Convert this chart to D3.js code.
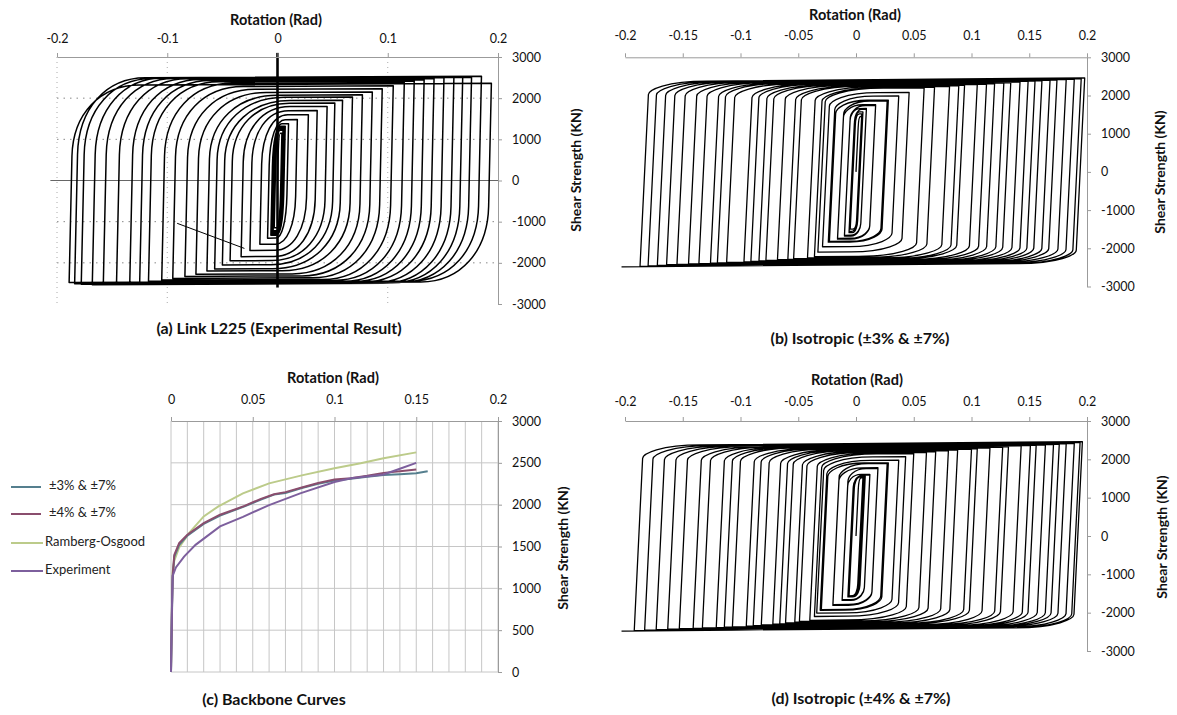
<!DOCTYPE html>
<html><head><meta charset="utf-8">
<script src="https://cdn.jsdelivr.net/npm/d3@7"></script>
<style>
body{margin:0;background:#fff;}
svg{display:block;font-family:Lato,"Open Sans",sans-serif;}
</style></head><body>
<svg id="c" width="1177" height="715"></svg>
<script>
// ---------- tick values ----------
const ticksAX = [-0.2, -0.1, 0, 0.1, 0.2];
const ticksBX = [-0.2, -0.15, -0.1, -0.05, 0, 0.05, 0.1, 0.15, 0.2];
const ticksCX = [0, 0.05, 0.1, 0.15, 0.2];
const ticksY  = [-3000, -2000, -1000, 0, 1000, 2000, 3000];
const ticksCY = [0, 500, 1000, 1500, 2000, 2500, 3000];

// ---------- (a) experimental hysteresis: peaks [rotation, force] ----------
const posA = [[0.004,1150],[0.005,1220],[0.005,1260],[0.006,1290],[0.006,1300],[0.007,1320],
  [0.010,1380],[0.018,1480],[0.028,1600],[0.036,1700],[0.045,1800],[0.052,1880],[0.059,1950],
  [0.068,2030],[0.077,2080],[0.086,2150],[0.095,2230],[0.105,2300],[0.115,2380],[0.124,2420],
  [0.133,2450],[0.142,2480],[0.151,2500],[0.160,2510],[0.168,2520],[0.176,2510],[0.185,2530],[0.194,2360]];
const negA = [[-0.003,-1150],[-0.004,-1220],[-0.004,-1260],[-0.005,-1290],[-0.005,-1300],[-0.006,-1330],
  [-0.009,-1400],[-0.016,-1550],[-0.025,-1700],[-0.033,-1850],[-0.043,-1950],[-0.050,-2050],[-0.057,-2150],
  [-0.064,-2200],[-0.074,-2280],[-0.084,-2330],[-0.095,-2380],[-0.105,-2420],[-0.117,-2450],[-0.125,-2470],
  [-0.134,-2480],[-0.146,-2490],[-0.158,-2520],[-0.168,-2530],[-0.178,-2520],[-0.184,-2510],[-0.189,-2480],[-0.150,-2500]];
const strayA = [[-0.091,-1040],[-0.030,-1650]];

// ---------- (b) isotropic ±3% & ±7% ----------
const posB = [[0.005,1450],[0.005,1520],[0.006,1570],[0.009,1640],[0.009,1660],[0.017,1740],[0.017,1760],
  [0.027,1860],[0.028,1880],[0.037,1990],[0.046,2080],
  [0.059,2200],[0.068,2220],[0.081,2240],[0.089,2260],[0.094,2270],[0.105,2290],[0.113,2300],[0.120,2310],
  [0.128,2330],[0.134,2340],[0.142,2350],[0.149,2370],[0.155,2380],[0.161,2390],[0.168,2400],[0.174,2410],
  [0.182,2420],[0.189,2430],[0.195,2445],[0.198,2460]];
const negB = [[-0.005,-1500],[-0.006,-1560],[-0.006,-1590],[-0.010,-1660],[-0.010,-1680],[-0.016,-1740],[-0.016,-1760],
  [-0.023,-1820],[-0.024,-1840],[-0.029,-1960],[-0.033,-2100],
  [-0.036,-2220],[-0.042,-2250],[-0.054,-2270],[-0.059,-2290],[-0.068,-2300],[-0.078,-2320],[-0.084,-2330],
  [-0.091,-2345],[-0.097,-2355],[-0.112,-2370],[-0.120,-2380],[-0.126,-2390],[-0.136,-2400],[-0.145,-2410],
  [-0.155,-2420],[-0.164,-2430],[-0.172,-2445],[-0.180,-2460],[-0.187,-2475],[-0.203,-2485]];

// ---------- (d) isotropic ±4% & ±7% ----------
const posD = [[0.006,1520],[0.007,1545],[0.008,1560],[0.012,1590],[0.012,1610],[0.019,1760],[0.019,1780],
  [0.027,1890],[0.028,1910],[0.037,1980],[0.043,2070],
  [0.050,2150],[0.061,2180],[0.069,2200],[0.080,2230],[0.088,2250],[0.100,2270],[0.105,2280],[0.116,2300],
  [0.127,2320],[0.132,2330],[0.143,2350],[0.151,2360],[0.156,2370],[0.164,2380],[0.171,2390],[0.176,2400],
  [0.182,2410],[0.189,2420],[0.194,2440],[0.196,2460]];
const negD = [[-0.006,-1560],[-0.007,-1575],[-0.007,-1590],[-0.012,-1660],[-0.012,-1680],[-0.020,-1790],[-0.020,-1810],
  [-0.030,-1920],[-0.031,-1940],[-0.034,-2010],[-0.036,-2100],
  [-0.040,-2200],[-0.049,-2230],[-0.053,-2250],[-0.061,-2270],[-0.066,-2290],[-0.072,-2300],[-0.082,-2320],
  [-0.089,-2340],[-0.095,-2350],[-0.107,-2370],[-0.114,-2380],[-0.121,-2390],[-0.133,-2400],[-0.141,-2410],
  [-0.153,-2420],[-0.163,-2430],[-0.173,-2440],[-0.183,-2455],[-0.192,-2470],[-0.203,-2480]];

// ---------- (c) backbone curves ----------
const seriesNames = ["±3% & ±7%", "±4% & ±7%", "Ramberg-Osgood", "Experiment"];
const seriesColors = ["#557f8e", "#8a4d6d", "#bccb8a", "#7d5f9d"];
const bb3 = [[0,0],[0.0005,600],[0.001,1100],[0.002,1380],[0.005,1520],[0.01,1630],[0.02,1770],[0.03,1870],
  [0.045,1980],[0.055,2060],[0.063,2120],[0.07,2140],[0.08,2200],[0.09,2250],[0.1,2290],[0.11,2310],
  [0.12,2335],[0.13,2355],[0.14,2365],[0.15,2375],[0.157,2400]];
const bb4 = [[0,0],[0.0005,650],[0.001,1150],[0.002,1400],[0.005,1540],[0.01,1640],[0.02,1780],[0.03,1880],
  [0.045,1985],[0.055,2070],[0.063,2125],[0.07,2150],[0.08,2205],[0.09,2260],[0.1,2300],[0.11,2315],
  [0.12,2345],[0.13,2380],[0.14,2400],[0.15,2420]];
const bbRO = [[0,0],[0.0005,700],[0.001,1200],[0.002,1330],[0.005,1490],[0.011,1660],[0.02,1860],[0.029,1980],
  [0.044,2135],[0.06,2255],[0.08,2350],[0.1,2435],[0.116,2495],[0.13,2555],[0.15,2625]];
const bbEx = [[0,0],[0.0005,700],[0.001,1150],[0.003,1250],[0.008,1380],[0.015,1520],[0.03,1740],[0.044,1855],
  [0.06,1995],[0.079,2135],[0.1,2270],[0.11,2315],[0.13,2360],[0.14,2430],[0.15,2500]];
const bbSeries = [bb3, bb4, bbRO, bbEx];

// ---------- helpers ----------
const svg = d3.select("#c");
const fmt = d => String(+(+d).toFixed(2));

function interleave(pos, neg){
  const pts = [[0,0]];
  for (let i = 0; i < Math.max(pos.length, neg.length); i++){
    if (pos[i]) pts.push(pos[i]);
    if (neg[i]) pts.push(neg[i]);
  }
  return pts;
}

// isotropic-type branches: straight elastic part, sharp knee, quick hardening rise, gentle plateau
function isoPath(pts, x, y, K, kp){
  const p = d3.path();
  p.moveTo(x(pts[0][0]), y(pts[0][1]));
  for (let i = 1; i < pts.length; i++){
    const [px, pf] = pts[i-1], [nx, nf] = pts[i];
    const s = nf > pf ? 1 : -1;
    const span = Math.abs(nx - px);
    const dH = Math.min(230, 0.12*Math.abs(nf));
    let r = Math.min(0.05, 0.5*span);
    const fk = nf - s*kp*Math.max(0, span - r) - s*dH;      // knee level
    const xc = px + (fk - pf)/K;                               // knee rotation
    const L = Math.abs(nx - xc);
    r = Math.min(0.05, 0.6*L);
    const dxp = xc + s*r, dfp = nf - s*kp*(L - r);
    const dA = Math.min(120, 0.08*Math.abs(nf));
    const ax = xc - s*dA/K, af = fk - s*dA;
    p.lineTo(x(ax), y(af));
    p.bezierCurveTo(x(xc), y(fk), x(xc + s*0.3*r), y(dfp), x(dxp), y(dfp));
    p.lineTo(x(nx), y(nf));
  }
  return p.toString();
}

// experimental branches: elastic part then wide rounded (Bauschinger) knee
function expPath(pts, x, y, K, kp, ra){
  const p = d3.path();
  p.moveTo(x(pts[0][0]), y(pts[0][1]));
  for (let i = 1; i < pts.length; i++){
    const [px, pf] = pts[i-1], [nx, nf] = pts[i];
    const s = nf > pf ? 1 : -1;
    const fa = s*ra*Math.abs(nf), ax = px + (fa - pf)/K;
    const xc = (nf - pf + K*px - kp*nx) / (K - kp), fc = pf + K*(xc - px);
    const w = Math.min(0.06, 0.55*Math.abs(nx - xc));
    const bx = xc + s*w, bf = fc + kp*s*w;
    const c1x = ax + 0.6*(xc - ax), c1f = fa + 0.6*(fc - fa);
    const c2x = bx + 0.6*(xc - bx), c2f = bf + 0.6*(fc - bf);
    p.lineTo(x(ax), y(fa));
    p.bezierCurveTo(x(c1x), y(c1f), x(c2x), y(c2f), x(bx), y(bf));
    p.lineTo(x(nx), y(nf));
  }
  return p.toString();
}

function axes(x, y, xt, yt, o){
  const g = svg.append("g");
  const ax = g.append("g").attr("transform", `translate(0,${y.range()[1]})`)
    .call(d3.axisTop(x).tickValues(xt).tickFormat(fmt).tickSize(4).tickPadding(o.xpad).tickSizeOuter(0));
  const ay = g.append("g").attr("transform", `translate(${x.range()[1]},0)`)
    .call(d3.axisRight(y).tickValues(yt).tickFormat(fmt).tickSize(4).tickPadding(10).tickSizeOuter(0));
  [ax, ay].forEach(a => {
    a.select(".domain").attr("stroke", "#9b9b9b");
    a.selectAll(".tick line").attr("stroke", "#9b9b9b");
    a.selectAll("text").attr("fill", "#111").style("font-size", "12.5px").style("font-family", "Lato");
  });
  g.append("text").attr("x", o.tx).attr("y", o.ty).attr("text-anchor", "middle")
    .style("font-weight", "700").style("font-size", "14.5px").attr("fill", "#111").text("Rotation (Rad)");
  g.append("text").attr("transform", `translate(${o.yx},${o.yy}) rotate(-90)`).attr("text-anchor", "middle")
    .attr("dominant-baseline", "middle")
    .style("font-weight", "700").style("font-size", "14px").attr("fill", "#111").text("Shear Strength (KN)");
  g.append("text").attr("x", o.cx).attr("y", o.cy).attr("text-anchor", "middle")
    .style("font-weight", "700").style("font-size", "16px").attr("fill", "#111").text(o.caption);
}

// ---------- panel (a) ----------
const xA = d3.scaleLinear([-0.2, 0.2], [57, 498]);
const yA = d3.scaleLinear([-3000, 3000], [304, 57]);
const gA = svg.append("g");
[-2000, -1000, 1000, 2000].forEach(v => gA.append("line")
  .attr("x1", xA(-0.2)).attr("x2", xA(0.2)).attr("y1", yA(v)).attr("y2", yA(v))
  .attr("stroke", "#888").attr("stroke-dasharray", "1.5,5"));
[-0.2, -0.1, 0.1].forEach(v => gA.append("line")
  .attr("x1", xA(v)).attr("x2", xA(v)).attr("y1", yA(3000)).attr("y2", yA(-3000))
  .attr("stroke", "#aaa").attr("stroke-dasharray", "1,4"));
gA.append("line").attr("x1", xA(-0.206)).attr("x2", xA(0.2)).attr("y1", yA(0)).attr("y2", yA(0))
  .attr("stroke", "#666").attr("stroke-width", 1);
gA.append("path").attr("d", expPath(interleave(posA, negA), xA, yA, 1200000, 120, 0.25))
  .attr("fill", "none").attr("stroke", "#000").attr("stroke-width", 1.5).attr("stroke-linejoin", "round");
gA.append("path").attr("d", d3.line().x(d => xA(d[0])).y(d => yA(d[1]))(strayA))
  .attr("fill", "none").attr("stroke", "#000").attr("stroke-width", 1);
gA.append("line").attr("x1", xA(0)).attr("x2", xA(0)).attr("y1", yA(3100)).attr("y2", yA(-2600))
  .attr("stroke", "#000").attr("stroke-width", 2.6);
axes(xA, yA, ticksAX, ticksY, {xpad: 10, tx: 276, ty: 25, yx: 577, yy: 170, cx: 279, cy: 334,
  caption: "(a) Link L225 (Experimental Result)"});

// ---------- panel (b) ----------
const xB = d3.scaleLinear([-0.2, 0.2], [625, 1087]);
const yB = d3.scaleLinear([-3000, 3000], [286.5, 57.3]);
svg.append("path").attr("d", isoPath(interleave(posB, negB), xB, yB, 620000, 250))
  .attr("fill", "none").attr("stroke", "#000").attr("stroke-width", 1.3).attr("stroke-linejoin", "round");
axes(xB, yB, ticksBX, ticksY, {xpad: 13, tx: 855, ty: 20, yx: 1161, yy: 172, cx: 860, cy: 344,
  caption: "(b) Isotropic (±3% & ±7%)"});

// ---------- panel (c) ----------
const xC = d3.scaleLinear([0, 0.2], [171, 498]);
const yC = d3.scaleLinear([0, 3000], [672, 421]);
const gC = svg.append("g");
d3.range(0, 21).forEach(i => gC.append("line")
  .attr("x1", xC(i/100)).attr("x2", xC(i/100)).attr("y1", yC(0)).attr("y2", yC(3000))
  .attr("stroke", "#c6c6c6").attr("stroke-width", 1));
ticksCY.slice(0, -1).forEach(v => gC.append("line")
  .attr("x1", xC(0)).attr("x2", xC(0.2)).attr("y1", yC(v)).attr("y2", yC(v))
  .attr("stroke", "#c6c6c6").attr("stroke-width", 1));
const lineC = d3.line().x(d => xC(d[0])).y(d => yC(d[1]));
[2, 0, 1, 3].forEach(i => gC.append("path").attr("d", lineC(bbSeries[i]))
  .attr("fill", "none").attr("stroke", seriesColors[i]).attr("stroke-width", 2));
axes(xC, yC, ticksCX, ticksCY, {xpad: 13, tx: 333, ty: 383, yx: 564, yy: 548, cx: 274, cy: 705,
  caption: "(c) Backbone Curves"});
const legY = [487, 514, 543, 571], legX = [49, 49, 45, 45];
seriesNames.forEach((n, i) => {
  gC.append("line").attr("x1", 11).attr("x2", i < 2 ? 41 : 43).attr("y1", legY[i]).attr("y2", legY[i])
    .attr("stroke", seriesColors[i]).attr("stroke-width", 2);
  gC.append("text").attr("x", legX[i]).attr("y", legY[i]).attr("dominant-baseline", "middle")
    .style("font-size", "13px").attr("fill", "#222").text(n);
});

// ---------- panel (d) ----------
const xD = d3.scaleLinear([-0.2, 0.2], [625, 1087]);
const yD = d3.scaleLinear([-3000, 3000], [651, 421]);
svg.append("path").attr("d", isoPath(interleave(posD, negD), xD, yD, 620000, 250))
  .attr("fill", "none").attr("stroke", "#000").attr("stroke-width", 1.3).attr("stroke-linejoin", "round");
axes(xD, yD, ticksBX, ticksY, {xpad: 11, tx: 857, ty: 385, yx: 1163, yy: 537, cx: 861, cy: 704,
  caption: "(d) Isotropic (±4% & ±7%)"});
</script>
</body></html>
